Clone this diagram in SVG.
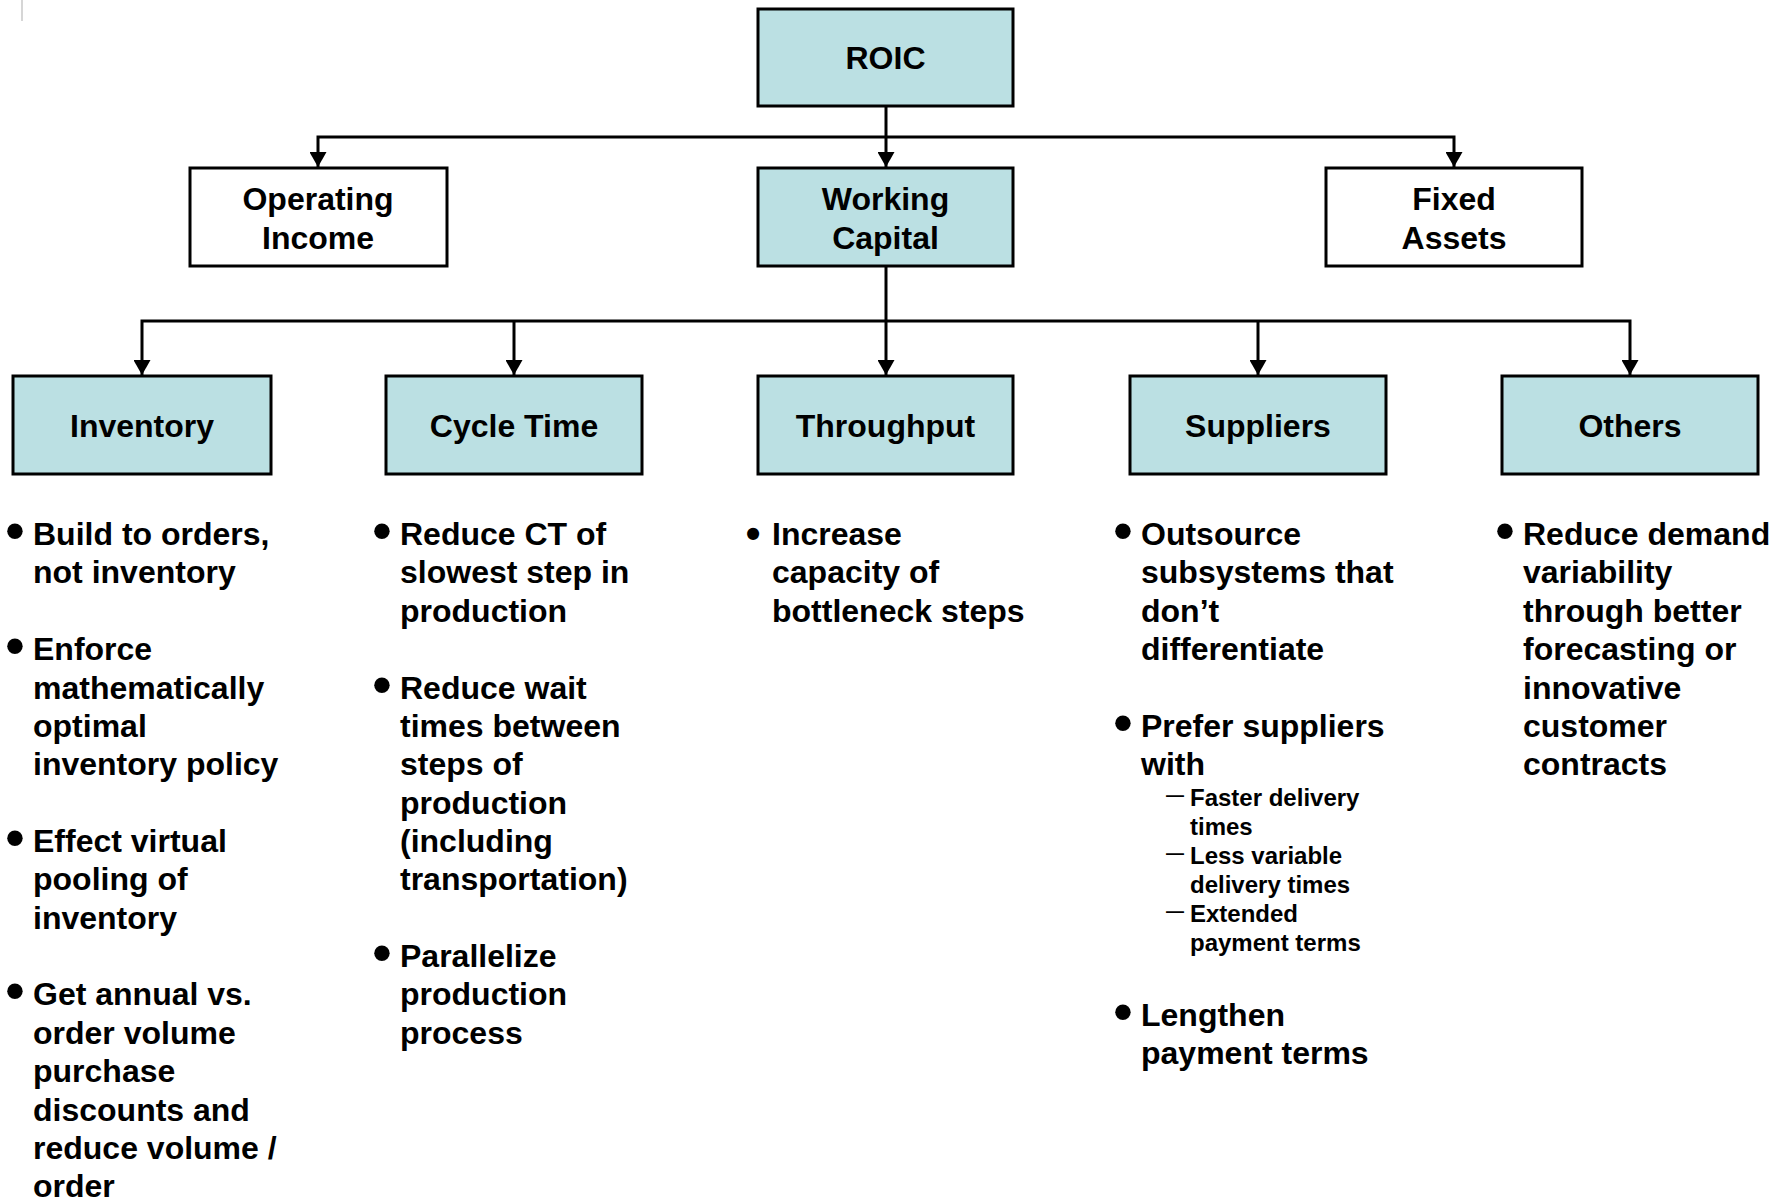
<svg xmlns="http://www.w3.org/2000/svg" width="1788" height="1201" viewBox="0 0 1788 1201">
<style>
.box{fill:#BBE0E3;stroke:#000;stroke-width:3}
.wbox{fill:#fff;stroke:#000;stroke-width:3}
.lbl{font-family:"Liberation Sans",Arial,sans-serif;font-weight:bold;font-size:32px;text-anchor:middle;fill:#000}
.txt{font-family:"Liberation Sans",Arial,sans-serif;font-weight:bold;font-size:32px;fill:#000}
.sub{font-family:"Liberation Sans",Arial,sans-serif;font-weight:bold;font-size:24px;fill:#000}
.dash{font-family:"Liberation Sans",Arial,sans-serif;font-weight:bold;font-size:18px;fill:#000}
.bul{font-family:"Liberation Sans",Arial,sans-serif;font-weight:bold;font-size:54px;text-anchor:middle;fill:#000}
.conn{stroke:#000;stroke-width:3;fill:none}
</style>
<defs>
<marker id="arr" markerUnits="userSpaceOnUse" markerWidth="15" markerHeight="17" refX="15" refY="8.5" orient="auto-start-reverse" viewBox="0 0 15 17">
<path d="M0,0 L15,8.5 L0,17 Z" fill="#000"/>
</marker>
</defs>
<rect width="1788" height="1201" fill="#fff"/>
<line x1="22" y1="0" x2="22" y2="21" stroke="#c8c8c8" stroke-width="1.5"/>

<g id="connectors">
<line class="conn" x1="886" y1="106" x2="886" y2="167" marker-end="url(#arr)"/>
<polyline class="conn" points="318,167 318,137 1454,137 1454,167" style="marker-start:url(#arr);marker-end:url(#arr)"/>
<line class="conn" x1="886" y1="266" x2="886" y2="375" marker-end="url(#arr)"/>
<polyline class="conn" points="142,375 142,321 1630,321 1630,375" style="marker-start:url(#arr);marker-end:url(#arr)"/>
<line class="conn" x1="514" y1="321" x2="514" y2="375" marker-end="url(#arr)"/>
<line class="conn" x1="1258" y1="321" x2="1258" y2="375" marker-end="url(#arr)"/>
</g>

<g id="roic"><rect class="box" x="758" y="9" width="255" height="97"/><text class="lbl" x="885.5" y="69">ROIC</text></g>
<g id="operating-income"><rect class="wbox" x="190" y="168" width="257" height="98"/><text class="lbl" x="318" y="209.5">Operating</text><text class="lbl" x="318" y="248.5">Income</text></g>
<g id="working-capital"><rect class="box" x="758" y="168" width="255" height="98"/><text class="lbl" x="885.5" y="209.5">Working</text><text class="lbl" x="885.5" y="248.5">Capital</text></g>
<g id="fixed-assets"><rect class="wbox" x="1326" y="168" width="256" height="98"/><text class="lbl" x="1454" y="209.5">Fixed</text><text class="lbl" x="1454" y="248.5">Assets</text></g>

<g id="inventory"><rect class="box" x="13" y="376" width="258" height="98"/><text class="lbl" x="142" y="436.5">Inventory</text></g>
<g id="cycle-time"><rect class="box" x="386" y="376" width="256" height="98"/><text class="lbl" x="514" y="436.5">Cycle Time</text></g>
<g id="throughput"><rect class="box" x="758" y="376" width="255" height="98"/><text class="lbl" x="885.5" y="436.5">Throughput</text></g>
<g id="suppliers"><rect class="box" x="1130" y="376" width="256" height="98"/><text class="lbl" x="1258" y="436.5">Suppliers</text></g>
<g id="others"><rect class="box" x="1502" y="376" width="256" height="98"/><text class="lbl" x="1630" y="436.5">Others</text></g>

<g id="inventory-list">
<text class="bul" x="15" y="549">•</text>
<text class="txt"><tspan x="33" y="545">Build to orders,</tspan><tspan x="33" y="583.4">not inventory</tspan></text>
<text class="bul" x="15" y="664">•</text>
<text class="txt"><tspan x="33" y="660.1">Enforce</tspan><tspan x="33" y="698.5">mathematically</tspan><tspan x="33" y="736.9">optimal</tspan><tspan x="33" y="775.2">inventory policy</tspan></text>
<text class="bul" x="15" y="856">•</text>
<text class="txt"><tspan x="33" y="852">Effect virtual</tspan><tspan x="33" y="890.3">pooling of</tspan><tspan x="33" y="928.7">inventory</tspan></text>
<text class="bul" x="15" y="1009.4">•</text>
<text class="txt"><tspan x="33" y="1005.4">Get annual vs.</tspan><tspan x="33" y="1043.8">order volume</tspan><tspan x="33" y="1082.2">purchase</tspan><tspan x="33" y="1120.6">discounts and</tspan><tspan x="33" y="1158.9">reduce volume /</tspan><tspan x="33" y="1197.3">order</tspan></text>
</g>

<g id="cycle-time-list">
<text class="bul" x="382" y="549">•</text>
<text class="txt"><tspan x="400" y="545">Reduce CT of</tspan><tspan x="400" y="583.4">slowest step in</tspan><tspan x="400" y="621.7">production</tspan></text>
<text class="bul" x="382" y="702.5">•</text>
<text class="txt"><tspan x="400" y="698.5">Reduce wait</tspan><tspan x="400" y="736.9">times between</tspan><tspan x="400" y="775.2">steps of</tspan><tspan x="400" y="813.6">production</tspan><tspan x="400" y="852">(including</tspan><tspan x="400" y="890.3">transportation)</tspan></text>
<text class="bul" x="382" y="971">•</text>
<text class="txt"><tspan x="400" y="967.1">Parallelize</tspan><tspan x="400" y="1005.4">production</tspan><tspan x="400" y="1043.8">process</tspan></text>
</g>

<g id="throughput-list">
<text class="bul" x="753" y="548" style="font-size:42px">•</text>
<text class="txt"><tspan x="772" y="545">Increase</tspan><tspan x="772" y="583.4">capacity of</tspan><tspan x="772" y="621.7">bottleneck steps</tspan></text>
</g>

<g id="suppliers-list">
<text class="bul" x="1123" y="549">•</text>
<text class="txt"><tspan x="1141" y="545">Outsource</tspan><tspan x="1141" y="583.4">subsystems that</tspan><tspan x="1141" y="621.7">don’t</tspan><tspan x="1141" y="660.1">differentiate</tspan></text>
<text class="bul" x="1123" y="740.9">•</text>
<text class="txt"><tspan x="1141" y="736.9">Prefer suppliers</tspan><tspan x="1141" y="775.2">with</tspan></text>
<text class="dash" x="1166" y="800.5">—</text>
<text class="dash" x="1166" y="858.5">—</text>
<text class="dash" x="1166" y="916.5">—</text>
<text class="sub"><tspan x="1190" y="805.5">Faster delivery</tspan><tspan x="1190" y="834.5">times</tspan><tspan x="1190" y="863.5">Less variable</tspan><tspan x="1190" y="892.5">delivery times</tspan><tspan x="1190" y="921.5">Extended</tspan><tspan x="1190" y="950.5">payment terms</tspan></text>
<text class="bul" x="1123" y="1030">•</text>
<text class="txt"><tspan x="1141" y="1026">Lengthen</tspan><tspan x="1141" y="1064.4">payment terms</tspan></text>
</g>

<g id="others-list">
<text class="bul" x="1505" y="549">•</text>
<text class="txt"><tspan x="1523" y="545">Reduce demand</tspan><tspan x="1523" y="583.4">variability</tspan><tspan x="1523" y="621.7">through better</tspan><tspan x="1523" y="660.1">forecasting or</tspan><tspan x="1523" y="698.5">innovative</tspan><tspan x="1523" y="736.9">customer</tspan><tspan x="1523" y="775.2">contracts</tspan></text>
</g>
</svg>
